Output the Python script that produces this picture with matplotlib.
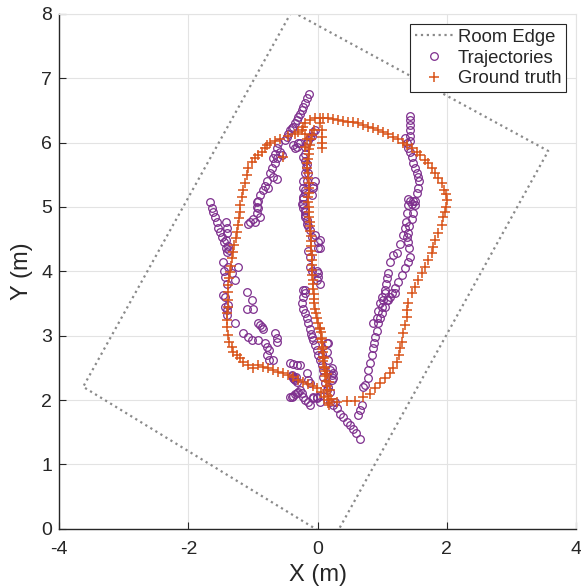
import numpy as np
import matplotlib
matplotlib.use("Agg")
import matplotlib.pyplot as plt

plt.rcParams['font.family'] = ['Liberation Sans', 'DejaVu Sans']
plt.rcParams['axes.unicode_minus'] = False

# room corners (m)
room_x = [0.24, -3.63, -0.40, 3.57, 0.24]
room_y = [-0.17, 2.205, 8.04, 5.87, -0.17]

# ground truth in pieces
gt_right = [(0.16,1.95),(0.30,1.97),(0.45,1.98),(0.58,1.99),(0.70,2.05),(0.81,2.10),(0.89,2.18),(0.97,2.26),
            (1.04,2.34),(1.12,2.42),(1.17,2.50),(1.23,2.59),(1.26,2.70),(1.28,2.81),(1.31,2.90),(1.32,3.04),
            (1.35,3.17),(1.38,3.29),(1.39,3.40),(1.40,3.51),(1.46,3.66),(1.51,3.76),(1.55,3.87),(1.61,3.98),
            (1.66,4.07),(1.71,4.18),(1.77,4.29),(1.79,4.38),(1.82,4.49),(1.86,4.59),(1.92,4.72),(1.94,4.84),
            (1.97,4.92),(1.99,5.00),(2.00,5.11),(1.98,5.20),(1.96,5.26),(1.92,5.37),(1.86,5.45),(1.82,5.52),
            (1.77,5.60),(1.71,5.68),(1.66,5.73),(1.58,5.80),(1.54,5.85),(1.46,5.91),(1.38,5.96),(1.32,6.00),
            (1.24,6.06),(1.17,6.08),(1.09,6.14),(1.01,6.16),(0.94,6.19),(0.86,6.22),(0.78,6.24),(0.70,6.27),
            (0.63,6.30),(0.55,6.32),(0.47,6.32),(0.39,6.33),(0.32,6.35),(0.24,6.36),(0.16,6.38),(0.08,6.38)]
gt_top = [(0.04,6.39),(-0.04,6.38),(-0.12,6.35),(-0.19,6.30),(-0.22,6.24),(-0.24,6.19),(-0.30,6.16),
          (-0.35,6.14),(-0.19,6.14),(-0.16,6.06),(-0.19,5.93),(0.07,6.08),(0.07,5.99),(0.07,5.91),
          (0.04,6.30),(0.07,6.19),(-0.53,5.77),(-0.46,6.11)]
gt_left = [(-0.58,6.06),(-0.66,6.03),(-0.74,6.00),(-0.79,5.96),(-0.82,5.91),(-0.86,5.85),(-0.93,5.80),
           (-0.97,5.76),(-1.02,5.70),(-1.08,5.60),(-1.10,5.49),(-1.13,5.38),(-1.16,5.26),(-1.17,5.15),
           (-1.20,5.03),(-1.20,4.92),(-1.22,4.83),(-1.23,4.72),(-1.25,4.61),(-1.26,4.51),(-1.29,4.41),
           (-1.31,4.30),(-1.33,4.20),(-1.34,4.09),(-1.36,3.99),(-1.37,3.89),(-1.39,3.78),(-1.39,3.68),
           (-1.39,3.55),(-1.39,3.44),(-1.40,3.35),(-1.40,3.24),(-1.40,3.13),(-1.39,3.01),(-1.37,2.90),
           (-1.33,2.82),(-1.31,2.75),(-1.25,2.70),(-1.20,2.65),(-1.15,2.59),(-1.08,2.54),(-1.00,2.50),
           (-0.92,2.54),(-0.85,2.51),(-0.77,2.50),(-0.69,2.46),(-0.61,2.43),(-0.54,2.42),(-0.46,2.39),
           (-0.38,2.36),(-0.30,2.31),(-0.23,2.28),(-0.15,2.25),(-0.07,2.21),(-0.01,2.19),(0.05,2.12),(0.10,2.05)]
gt_mid = [(-0.06,6.20),(-0.08,6.12),(-0.10,6.05),(-0.12,5.97),(-0.13,5.90),(-0.14,5.82),(-0.15,5.75),
          (-0.16,5.68),(-0.16,5.60),(-0.15,5.52),(-0.15,5.45),(-0.14,5.38),(-0.14,5.30),(-0.14,5.22),
          (-0.15,5.15),(-0.15,5.07),(-0.14,5.00),(-0.13,4.92),(-0.13,4.85),(-0.12,4.77),(-0.12,4.70),
          (-0.12,4.62),(-0.11,4.55),(-0.11,4.47),(-0.10,4.40),(-0.10,4.32),(-0.09,4.25),(-0.09,4.17),
          (-0.09,4.10),(-0.08,4.02),(-0.08,3.95),(-0.07,3.87),(-0.07,3.80),(-0.07,3.72),(-0.06,3.65),
          (-0.06,3.57),(-0.05,3.50),(-0.04,3.42),(-0.03,3.35),(-0.01,3.27),(0.01,3.20),(0.03,3.12),
          (0.05,3.05),(0.06,2.97),(0.07,2.90),(0.08,2.82),(0.08,2.75),(0.09,2.67),(0.09,2.60),(0.10,2.52),
          (0.11,2.45),(0.12,2.37),(0.13,2.30),(0.14,2.22),(0.15,2.15),(0.16,2.07),(0.17,2.00),(0.17,1.93),
          (0.03,3.10),(0.05,2.95),(0.07,2.80),(0.10,2.65),(0.12,2.50),(0.14,2.40),(0.17,2.28),(0.19,2.15),
          (0.20,2.02)]

# estimated trajectories, same way
tr_left = [(-1.66,5.07),(-1.63,4.99),(-1.62,4.92),(-1.59,4.84),(-1.56,4.76),(-1.54,4.68),(-1.51,4.61),
           (-1.48,4.53),(-1.45,4.45),(-1.42,4.37),(-1.40,4.30),(-1.42,4.76),(-1.40,4.68),(-1.40,4.59),
           (-1.42,4.48),(-1.39,4.40),(-1.37,4.33),(-1.46,4.14),(-1.45,4.01),(-1.43,3.91),(-1.40,3.81),
           (-1.39,4.06),(-1.23,4.06),(-1.32,3.98),(-1.28,3.86),(-1.09,3.68),(-1.01,3.55),(-1.00,3.42),
           (-1.09,3.42),(-1.43,3.60),(-1.43,3.44),(-1.40,3.32),(-1.28,3.19),(-0.92,3.19),(-0.86,3.13),
           (-1.46,3.63),(-1.40,3.40),(-1.39,3.47)]
tr_low = [(-1.15,3.04),(-1.08,2.98),(-1.01,2.93),(-0.92,2.93),(-0.89,3.16),(-0.84,3.11),(-0.81,2.88),
          (-0.78,2.82),(-0.76,2.77),(-0.78,2.70),(-0.76,2.62),(-0.69,2.62),(-0.66,3.04),(-0.63,2.96),
          (-0.63,2.90),(-0.43,2.57),(-0.38,2.56),(-0.32,2.54),(-0.27,2.54),(-0.40,2.39),(-0.37,2.36),
          (-0.35,2.31),(-0.32,2.28),(-0.38,2.34),(-0.36,2.33),(-0.34,2.36),(-0.39,2.37),(-0.16,2.42),
          (-0.15,2.31),(-0.12,2.26),(-0.43,2.05),(-0.40,2.04),(-0.38,2.07),(-0.35,2.10),(-0.32,2.11),
          (-0.30,2.12),(-0.27,2.15),(-0.24,2.11),(-0.22,2.05),(-0.20,2.00),(-0.15,1.97),(-0.12,1.92),
          (-0.07,2.03),(-0.01,2.05)]
tr_mid = [(-0.07,6.16),(-0.09,6.11),(-0.15,6.04),(-0.16,5.99),(-0.04,6.19),(-0.12,6.08),(-0.19,5.93),
          (-0.19,5.83),(-0.22,5.77),(-0.19,5.72),(-0.16,5.67),(-0.18,5.62),(-0.15,5.52),(-0.19,5.52),
          (-0.16,5.41),(-0.22,5.41),(-0.04,5.41),(-0.07,5.33),(-0.22,5.30),(-0.07,5.29),(-0.19,5.26),
          (-0.19,5.21),(-0.09,5.18),(-0.22,5.15),(-0.22,5.13),(-0.22,5.05),(-0.24,5.05),(-0.22,4.98),
          (-0.19,4.95),(-0.19,4.92),(-0.19,4.87),(-0.19,4.84),(-0.16,4.79),(-0.16,4.74),(-0.15,4.71),
          (-0.12,4.64),(-0.04,4.56),(-0.09,4.53),(0.04,4.48),(0.00,4.45),(0.04,4.37),(0.00,4.37),
          (-0.15,4.32),(-0.12,4.22),(-0.12,4.06),(-0.09,4.01),(-0.01,4.01),(0.00,3.97),(0.00,3.91),
          (-0.01,3.86),(0.04,3.81),(-0.19,3.71),(-0.22,3.71),(-0.19,3.66),(-0.22,3.60),(-0.24,3.50),
          (-0.22,3.42),(-0.19,3.35),(-0.16,3.27),(-0.15,3.19),(-0.12,3.11),(-0.10,3.03),(-0.09,2.98),
          (-0.07,2.93),(-0.04,2.85),(-0.01,2.77),(0.00,2.70),(0.04,2.62),(0.07,2.54),(0.09,2.46),
          (0.09,2.36),(0.12,2.26),(0.15,2.15),(0.15,2.88),(0.16,2.88),(0.15,2.74),(0.16,2.62),(0.19,2.46),
          (0.22,2.39),(0.24,2.34),(0.16,2.20),(0.22,2.49),(0.24,2.42),(0.22,2.31),(0.07,2.72),(0.04,2.07),
          (0.19,2.12),(-0.07,2.04),(-0.01,2.03),(0.04,1.97)]
tr_diag = [(0.19,1.97),(0.24,1.92),(0.27,1.97),(0.30,1.87),(0.35,1.79),(0.39,1.73),(0.46,1.66),
           (0.50,1.61),(0.55,1.55),(0.60,1.49),(0.66,1.40)]
tr_right = [(0.62,1.76),(0.66,1.84),(0.69,1.92),(0.70,2.20),(0.73,2.23),(0.78,2.34),(0.78,2.46),
            (0.81,2.57),(0.84,2.70),(0.86,2.81),(0.87,2.88),(0.89,2.98),(0.92,3.08),(0.93,3.19),
            (0.97,3.28),(1.00,3.44),(1.01,3.55),(1.04,3.66),(1.08,3.55),(1.12,3.60),(1.20,3.67),
            (0.86,3.19),(0.92,3.28),(0.93,3.39),(0.97,3.50),(1.00,3.60),(1.04,3.71),(1.06,3.81),
            (1.08,3.89),(1.09,3.98),(1.12,4.14),(1.17,4.25),(1.23,4.28),(1.28,4.43),(1.32,4.56),
            (1.35,4.67),(1.37,4.76),(1.38,4.90),(1.40,5.03),(1.43,5.10),
            (1.00,3.35),(1.04,3.44),(1.09,3.55),(1.15,3.66),(1.20,3.74),(1.24,3.83),(1.31,3.94),
            (1.35,4.05),(1.40,4.14),(1.43,4.22),(1.42,4.36),(1.40,4.45),(1.38,4.53),(1.40,4.60),
            (1.42,4.71),(1.46,4.82),(1.48,4.90),(1.51,5.03),(1.48,5.10),
            (1.43,6.42),(1.43,6.35),(1.43,6.27),(1.43,6.19),(1.43,6.11),(1.43,6.03),(1.38,6.00),
            (1.40,5.92),(1.43,5.85),(1.46,5.77),(1.48,5.69),(1.51,5.61),(1.54,5.53),(1.56,5.46),
            (1.57,5.41),(1.56,5.30),(1.54,5.21),(1.51,5.10),(1.46,5.05),(1.40,5.13),(1.35,6.07)]
tr_upper = [(-0.14,6.76),(-0.16,6.69),(-0.19,6.62),(-0.22,6.56),(-0.24,6.50),(-0.27,6.45),(-0.30,6.40),
            (-0.32,6.35),(-0.35,6.30),(-0.38,6.25),(-0.40,6.22),(-0.43,6.19),(-0.46,6.14),(-0.47,6.08),
            (-0.50,6.04),(-0.61,5.99),(-0.63,5.91),(-0.66,5.83),(-0.69,5.76),(-0.66,5.68),(-0.71,5.60),
            (-0.74,5.52),(-0.69,5.46),(-0.79,5.41),(-0.82,5.33),(-0.77,5.30),(-0.84,5.26),(-0.89,5.18),
            (-0.92,5.10),(-0.94,5.00),(-0.63,5.44),(-0.58,5.85),(-0.55,5.80),(-0.63,5.76),
            (-0.94,5.07),(-0.92,4.98),(-0.94,4.90),(-1.00,4.82),(-1.04,4.76),(-1.08,4.74),(-0.89,4.84),
            (-0.97,4.76),(-0.38,5.96),(-0.32,5.93),(-0.35,5.91),(-0.30,5.99),(-0.27,6.00)]

gt = np.array(gt_right + gt_top + gt_left + gt_mid)
tr = np.array(tr_left + tr_low + tr_mid + tr_diag + tr_right + tr_upper)

purple = '#7E2F8E'
orange = '#D95319'
dark = '#262626'

fig = plt.figure(figsize=(5.81, 5.87), dpi=100)
ax = fig.add_axes([0.102, 0.0993, 0.8894, 0.877])

ax.plot(room_x, room_y, ':', color='#8a8a8a', lw=1.6, label='Room Edge')
ax.plot(tr[:, 0], tr[:, 1], 'o', ms=5.5, mfc='none', mec=purple, mew=0.9, label='Trajectories')
ax.plot(gt[:, 0], gt[:, 1], '+', ms=7, mec=orange, mew=1.1, label='Ground truth')

ax.set_xlim(-4, 4)
ax.set_ylim(0, 8)
ax.set_xticks([-4, -2, 0, 2, 4])
ax.set_yticks(range(0, 9))
ax.grid(True, color='#e3e3e3', lw=0.8)
ax.set_axisbelow(True)
for s in ['top', 'right']:
    ax.spines[s].set_color('#e3e3e3')
for s in ['left', 'bottom']:
    ax.spines[s].set_color(dark)
    ax.spines[s].set_linewidth(1.0)
ax.tick_params(direction='in', length=5, width=0.8, colors=dark, labelsize=14, top=False, right=False)
ax.tick_params(axis='x', pad=9)
ax.tick_params(axis='y', pad=5)
ax.set_xlabel('X (m)', fontsize=17, color=dark, labelpad=4)
ax.set_ylabel('Y (m)', fontsize=17, color=dark, labelpad=6)

leg = ax.legend(loc='upper right', bbox_to_anchor=(0.981, 0.98), fontsize=13.3, fancybox=False,
                framealpha=1, edgecolor=dark, borderpad=0.25, handlelength=2.1, labelspacing=0.2,
                handletextpad=0.25, borderaxespad=0)
leg.get_frame().set_linewidth(0.8)
for t in leg.get_texts():
    t.set_color(dark)

fig.savefig('out.png', dpi=100)
